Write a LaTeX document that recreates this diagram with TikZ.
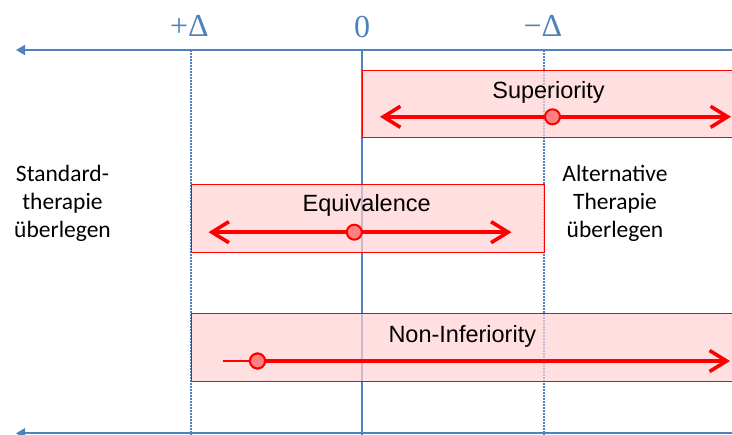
\documentclass[tikz,border=0pt]{standalone}
\usepackage{fontspec}
\setmainfont{Liberation Sans}
\newfontfamily\calibfont{Carlito}
\newfontfamily\timesfont{Liberation Serif}
\usetikzlibrary{arrows.meta}
\definecolor{axisblue}{RGB}{79,129,189}
\definecolor{boxfill}{RGB}{255,210,210}
\definecolor{dotfill}{RGB}{255,128,128}
\begin{document}
\begin{tikzpicture}[x=1pt,y=-1pt,
  axisline/.style={axisblue, line width=1.6pt},
  axistip/.style={-{Triangle[length=9pt,width=10pt]}},
  marginline/.style={axisblue, line width=2pt, dash pattern=on 1.6pt off 1.4pt},
  bandbox/.style={draw=red, line width=1pt, fill=boxfill, fill opacity=0.7, inner sep=0pt, anchor=north west},
  bandlabel/.style={anchor=base, font=\fontsize{23.5}{28}\selectfont, text=black},
  sidelabel/.style={align=center, font=\calibfont\fontsize{23.5}{27.8}\selectfont, text=black, anchor=base, inner sep=0pt},
  ticklabel/.style={anchor=base, font=\timesfont\fontsize{32}{36}\selectfont, text=axisblue, inner sep=0pt},
  ciarrow/.style={red, line width=3.6pt, {Straight Barb[length=17pt,width=21pt]}-{Straight Barb[length=17pt,width=21pt]}},
  ciright/.style={red, line width=3.6pt, -{Straight Barb[length=17pt,width=21pt]}},
  thinline/.style={red, line width=1.6pt},
  estdot/.style={circle, draw=red, line width=2pt, fill=dotfill, minimum size=15pt, inner sep=0pt}
]
\useasboundingbox (0,0) rectangle (732,435);

% coordinates of the axes
\coordinate (topR) at (735,50);
\coordinate (topL) at (16,50);
\coordinate (botR) at (735,433.3);
\coordinate (botL) at (16,433.3);
\coordinate (zeroT) at (361.7,50);
\coordinate (zeroB) at (361.7,435);
\coordinate (plusT) at (191.3,50);
\coordinate (plusB) at (191.3,435);
\coordinate (minusT) at (543.5,50);
\coordinate (minusB) at (543.5,435);

% vertical lines
\draw[axisline] (zeroT) -- (zeroB);
\draw[marginline] (plusT) -- (plusB);
\draw[marginline] (minusT) -- (minusB);

% horizontal axes
\draw[axisline, axistip] (topR) -- (topL);
\draw[axisline, axistip] (botR) -- (botL);

% tick labels
\node[ticklabel] (lplus) at (189.5,36.7) {+Δ};
\node[ticklabel] (lzero) at (362,38) {0};
\node[ticklabel] (lminus) at (543,36.7) {−Δ};

% bands
\node[bandbox, minimum width=400pt, minimum height=67.5pt] (supbox) at (362,70) {};
\node[bandbox, minimum width=353.5pt, minimum height=67.5pt] (eqbox) at (190.5,184.2) {};
\node[bandbox, minimum width=560pt, minimum height=67.7pt] (nibox) at (190.5,313.3) {};

% band labels
\node[bandlabel] (suplab) at (548.5,98.3) {Superiority};
\node[bandlabel] (eqlab) at (366.7,211.7) {Equivalence};
\node[bandlabel] (nilab) at (462.3,342.3) {Non-Inferiority};

% side labels
\node[sidelabel] (leftlab) at (62.5,237.5) {Standard-\\therapie\\überlegen};
\node[sidelabel] (rightlab) at (615,237.5) {Alternative\\Therapie\\überlegen};

% Superiority interval
\coordinate (supL) at (380,116.8);
\coordinate (supR) at (731,116.8);
\draw[ciarrow] (supL) -- (supR);
\node[estdot] (supdot) at (552.5,116.8) {};

% Equivalence interval
\coordinate (eqL) at (208.5,232.2);
\coordinate (eqR) at (511.5,232.2);
\draw[ciarrow] (eqL) -- (eqR);
\node[estdot] (eqdot) at (354.3,232.2) {};

% Non-inferiority interval
\coordinate (niL) at (222.7,361);
\coordinate (niR) at (730,361);
\node[estdot] (nidot) at (257.5,361) {};
\draw[thinline] (niL) -- (nidot.west);
\draw[ciright] (nidot.east) -- (niR);
\node[estdot] at (nidot) {};
\end{tikzpicture}
\end{document}
